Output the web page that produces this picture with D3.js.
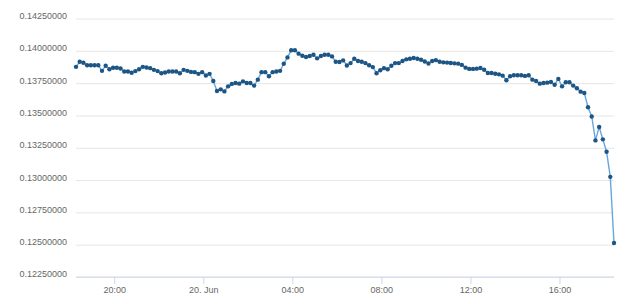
<!DOCTYPE html>
<html>
<head>
<meta charset="utf-8">
<script src="https://cdnjs.cloudflare.com/ajax/libs/d3/7.8.5/d3.min.js"></script>
<style>
  body { margin: 0; background: #fff; }
  svg { display: block; font-family: "DejaVu Sans", sans-serif; }
  .grid line { stroke: #e6e6e6; }
  .grid text, .xaxis text { fill: #666; font-size: 9px; }
</style>
</head>
<body>
<div class="chart"></div>
<script>
// price readings, one every 10 minutes
const startTime = new Date(2017, 5, 19, 18, 17);
const stepMinutes = 10;

const prices = [
  0.13872, 0.13911, 0.13904, 0.13885, 0.13885, 0.13885, 0.13885, 0.13841, 0.13880, 0.13854,
  0.13865, 0.13865, 0.13859, 0.13836, 0.13836, 0.13826, 0.13839, 0.13854, 0.13872, 0.13867,
  0.13862, 0.13849, 0.13839, 0.13823, 0.13828, 0.13836, 0.13836, 0.13836, 0.13823, 0.13849,
  0.13841, 0.13833, 0.13831, 0.13818, 0.13831, 0.13805, 0.13818, 0.13763, 0.13685, 0.13698,
  0.13682, 0.13721, 0.13740, 0.13747, 0.13742, 0.13760, 0.13747, 0.13747, 0.13727, 0.13773,
  0.13831, 0.13831, 0.13799, 0.13831, 0.13836, 0.13841, 0.13896, 0.13945, 0.14000, 0.14000,
  0.13974, 0.13958, 0.13948, 0.13956, 0.13966, 0.13938, 0.13956, 0.13966, 0.13966, 0.13953,
  0.13911, 0.13909, 0.13922, 0.13883, 0.13901, 0.13935, 0.13917, 0.13911, 0.13901, 0.13885,
  0.13870, 0.13823, 0.13846, 0.13862, 0.13854, 0.13880, 0.13901, 0.13901, 0.13917, 0.13930,
  0.13935, 0.13940, 0.13935, 0.13927, 0.13914, 0.13898, 0.13917, 0.13924, 0.13911, 0.13907,
  0.13905, 0.13902, 0.13899, 0.13897, 0.13887, 0.13866, 0.13856, 0.13856, 0.13858, 0.13863,
  0.13850, 0.13825, 0.13825, 0.13819, 0.13814, 0.13804, 0.13768, 0.13799, 0.13807, 0.13807,
  0.13807, 0.13802, 0.13807, 0.13773, 0.13763, 0.13742, 0.13747, 0.13750, 0.13755, 0.13734,
  0.13779, 0.13721, 0.13753, 0.13753, 0.13727, 0.13706, 0.13680, 0.13670, 0.13560, 0.13488,
  0.13303, 0.13407, 0.13311, 0.13215, 0.13021, 0.12509
];

const yTicks = [0.1225, 0.125, 0.1275, 0.13, 0.1325, 0.135, 0.1375, 0.14, 0.1425];
const xTickTimes = [
  new Date(2017, 5, 19, 20), new Date(2017, 5, 20, 0), new Date(2017, 5, 20, 4),
  new Date(2017, 5, 20, 8), new Date(2017, 5, 20, 12), new Date(2017, 5, 20, 16)
];
const xTickLabels = ['20:00', '20. Jun', '04:00', '08:00', '12:00', '16:00'];

const data = prices.map((p, i) => ({
  t: new Date(startTime.getTime() + i * stepMinutes * 60000),
  v: p
}));

const width = 640;
const height = 304;
const margin = { top: 18, right: 26, bottom: 27.5, left: 76 };
const plotW = width - margin.left - margin.right;
const plotH = height - margin.top - margin.bottom;

const svg = d3.select('.chart')
  .append('svg')
  .attr('width', width)
  .attr('height', height);

const x = d3.scaleTime()
  .domain(d3.extent(data, d => d.t))
  .range([0, plotW]);

const y = d3.scaleLinear()
  .domain([0.1225, 0.1425])
  .range([plotH, 0]);

const g = svg.append('g')
  .attr('transform', `translate(${margin.left},${margin.top})`);

// gridlines + y labels
const grid = g.append('g')
  .attr('class', 'grid')
  .call(d3.axisLeft(y)
    .tickValues(yTicks)
    .tickSize(-plotW)
    .tickPadding(9)
    .tickFormat(d3.format('.8f')));
grid.select('.domain').remove();
grid.selectAll('text').attr('dy', '0.05em');
grid.selectAll('line').attr('transform', 'translate(0,0.5)');

// x axis
const xAxis = g.append('g')
  .attr('class', 'xaxis')
  .attr('transform', `translate(0,${plotH + 0.5})`)
  .call(d3.axisBottom(x)
    .tickValues(xTickTimes)
    .tickSize(7)
    .tickPadding(3)
    .tickFormat((d, i) => xTickLabels[i]));
xAxis.select('.domain').attr('stroke', '#ccd6eb').attr('d', `M0,0H${plotW}`);
xAxis.selectAll('line').attr('stroke', '#ccd6eb');

const line = d3.line()
  .x(d => x(d.t))
  .y(d => y(d.v));

g.append('path')
  .datum(data)
  .attr('fill', 'none')
  .attr('stroke', '#6aa6dc')
  .attr('stroke-width', 1.4)
  .attr('d', line);

g.selectAll('circle')
  .data(data)
  .enter()
    .append('circle')
    .attr('cx', d => x(d.t))
    .attr('cy', d => y(d.v))
    .attr('r', 2.2)
    .attr('fill', '#1d5685');
</script>
</body>
</html>
